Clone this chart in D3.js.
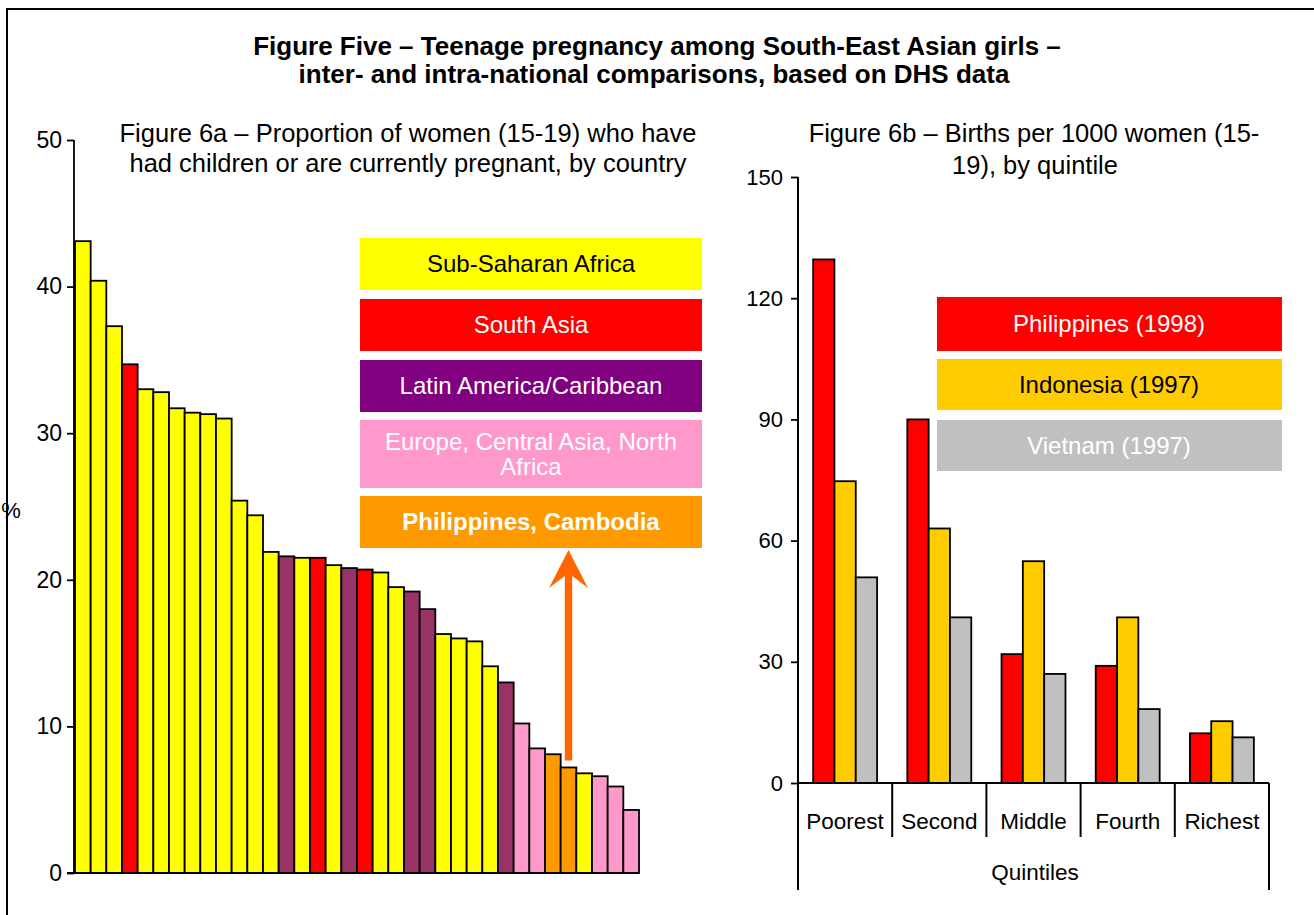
<!DOCTYPE html>
<html lang="en">
<head>
<meta charset="utf-8">
<title>Teenage pregnancy among South-East Asian girls</title>
<script src="https://cdn.jsdelivr.net/npm/d3@7/dist/d3.min.js"></script>
<style>
  body { margin: 0; background: #fff; }
  text { font-family: "Liberation Sans", Arial, sans-serif; }
</style>
</head>
<body>
<script>
// Figure 6a: share of women 15-19 who have had children or are pregnant, sorted by country
var countryValues = [43.1, 40.4, 37.3, 34.7, 33.0, 32.8, 31.7, 31.4, 31.3, 31.0, 25.4, 24.4,
  21.9, 21.6, 21.5, 21.5, 21.0, 20.8, 20.7, 20.5, 19.5, 19.2, 18.0, 16.3, 16.0, 15.8, 14.1,
  13.0, 10.2, 8.5, 8.1, 7.2, 6.8, 6.6, 5.9, 4.3]
var countryRegions = ['SSA', 'SSA', 'SSA', 'SA', 'SSA', 'SSA', 'SSA', 'SSA', 'SSA', 'SSA', 'SSA', 'SSA',
  'SSA', 'LAC', 'SSA', 'SA', 'SSA', 'LAC', 'SA', 'SSA', 'SSA', 'LAC', 'LAC', 'SSA', 'SSA', 'SSA', 'SSA',
  'LAC', 'ECA', 'ECA', 'PC', 'PC', 'SSA', 'ECA', 'ECA', 'ECA']
var leftTicks = [0, 10, 20, 30, 40, 50]

var regionKeys = ['SSA', 'SA', 'LAC', 'ECA', 'PC']
var regionLabels = [['Sub-Saharan Africa'], ['South Asia'], ['Latin America/Caribbean'],
  ['Europe, Central Asia, North', 'Africa'], ['Philippines, Cambodia']]

// Figure 6b: births per 1000 women 15-19, by wealth quintile
var quintiles = ['Poorest', 'Second', 'Middle', 'Fourth', 'Richest']
var countries = ['Philippines (1998)', 'Indonesia (1997)', 'Vietnam (1997)']
var philippines = [129.6, 90.0, 31.9, 29.0, 12.3]
var indonesia = [74.7, 63.0, 54.9, 41.0, 15.3]
var vietnam = [50.9, 41.0, 27.0, 18.3, 11.3]
var rightTicks = [0, 30, 60, 90, 120, 150]

var barColor = {SSA: '#ffff00', SA: '#ff0000', LAC: '#993366', ECA: '#ff99cc', PC: '#ff9900'}
var legendColor = {SSA: '#ffff00', SA: '#ff0000', LAC: '#800080', ECA: '#ff99cc', PC: '#ff9900'}
var legendText = {SSA: '#000', SA: '#fff', LAC: '#fff', ECA: '#fff', PC: '#fff'}
var countryColors = ['#ff0000', '#ffcc00', '#c0c0c0']
var countryText = ['#fff', '#000', '#fff']

var svg = d3.select('body').append('svg').attr('width', 1314).attr('height', 915)

// frame (open on the right and bottom, as in the scan)
svg.append('rect').attr('x', 7).attr('y', 9).attr('width', 1330).attr('height', 930)
  .attr('fill', 'none').attr('stroke', '#000').attr('stroke-width', 2)

var title = svg.append('text').attr('text-anchor', 'middle').attr('font-weight', 'bold')
  .attr('font-size', 26).attr('fill', '#000')
title.append('tspan').attr('x', 657).attr('y', 55).text('Figure Five \u2013 Teenage pregnancy among South-East Asian girls \u2013')
title.append('tspan').attr('x', 654).attr('y', 83).text('inter- and intra-national comparisons, based on DHS data')

// ---------- left chart ----------
var xl = d3.scaleBand().domain(d3.range(countryValues.length)).range([75, 639]).padding(0)
var yl = d3.scaleLinear().domain([0, 50]).range([873, 140])

var sub1 = svg.append('text').attr('text-anchor', 'middle').attr('font-size', 25.5)
sub1.append('tspan').attr('x', 408).attr('y', 142).text('Figure 6a \u2013 Proportion of women (15-19) who have')
sub1.append('tspan').attr('x', 408).attr('y', 172).text('had children or are currently pregnant, by country')

svg.append('g').selectAll('rect').data(countryValues).enter().append('rect')
  .attr('x', function(d, i) { return xl(i) })
  .attr('y', function(d) { return yl(d) })
  .attr('width', xl.bandwidth())
  .attr('height', function(d) { return yl(0) - yl(d) })
  .attr('fill', function(d, i) { return barColor[countryRegions[i]] })
  .attr('stroke', '#000').attr('stroke-width', 1.8)

var axl = svg.append('g').attr('transform', 'translate(74,0)')
  .call(d3.axisLeft(yl).tickValues(leftTicks).tickSize(7).tickPadding(5))
axl.selectAll('text').attr('font-size', 23).attr('fill', '#000').style('font-family', '"Liberation Sans", Arial, sans-serif')
axl.selectAll('line, path').attr('stroke', '#000').attr('stroke-width', 1.8)
axl.select('.domain').attr('d', 'M0,' + yl(50) + 'V' + yl(0))
svg.append('line').attr('x1', 67).attr('x2', 639).attr('y1', yl(0)).attr('y2', yl(0))
  .attr('stroke', '#000').attr('stroke-width', 2)

svg.append('text').attr('x', 11).attr('y', 518).attr('text-anchor', 'middle')
  .attr('font-size', 22).text('%')

// region legend boxes
var legL = svg.append('g').selectAll('g').data(regionKeys).enter().append('g')
var legTop = [238, 299, 360, 420, 496], legH = [52, 52, 52, 68, 52]
legL.append('rect')
  .attr('x', 360).attr('y', function(d, i) { return legTop[i] })
  .attr('width', 342).attr('height', function(d, i) { return legH[i] })
  .attr('fill', function(d) { return legendColor[d] })
legL.each(function(d, i) {
  var lines = regionLabels[i]
  var t = d3.select(this).append('text').attr('text-anchor', 'middle').attr('font-size', 24)
    .attr('fill', legendText[d]).attr('font-weight', d == 'PC' ? 'bold' : 'normal')
  lines.forEach(function(s, k) {
    t.append('tspan').attr('x', 531)
      .attr('y', legTop[i] + legH[i] / 2 + 8 + (k - (lines.length - 1) / 2) * 25)
      .text(s)
  })
})

// arrow pointing from the Philippines/Cambodia bars up to their legend box
var ax = xl(31) + xl.bandwidth() / 2, ab = yl(countryValues[31]) - 7, at = 550
svg.append('path')
  .attr('d', 'M' + (ax - 3.7) + ',' + ab + 'V' + (at + 26) + 'L' + (ax - 19.5) + ',' + (at + 38) +
    'L' + ax + ',' + at + 'L' + (ax + 19.5) + ',' + (at + 38) + 'L' + (ax + 3.7) + ',' + (at + 26) +
    'V' + ab + 'Z')
  .attr('fill', '#ff6600')

// ---------- right chart ----------
var x0 = d3.scaleBand().domain(quintiles).range([798, 1269]).padding(0)
var x1 = d3.scaleBand().domain(countries).range([0, x0.bandwidth()]).paddingInner(0).paddingOuter(0.71)
var yr = d3.scaleLinear().domain([0, 150]).range([783, 177])
var series = [philippines, indonesia, vietnam]

var sub2 = svg.append('text').attr('text-anchor', 'middle').attr('font-size', 25.5)
sub2.append('tspan').attr('x', 1034).attr('y', 142).text('Figure 6b \u2013 Births per 1000 women (15-')
sub2.append('tspan').attr('x', 1035).attr('y', 174).text('19), by quintile')

var groups = svg.append('g').selectAll('g').data(quintiles).enter().append('g')
  .attr('transform', function(d) { return 'translate(' + x0(d) + ',0)' })
groups.selectAll('rect')
  .data(function(q, qi) { return countries.map(function(c, ci) { return {c: c, ci: ci, v: series[ci][qi]} }) })
  .enter().append('rect')
  .attr('x', function(d) { return x1(d.c) })
  .attr('y', function(d) { return yr(d.v) })
  .attr('width', x1.bandwidth())
  .attr('height', function(d) { return yr(0) - yr(d.v) })
  .attr('fill', function(d) { return countryColors[d.ci] })
  .attr('stroke', '#000').attr('stroke-width', 1.8)

var ayr = svg.append('g').attr('transform', 'translate(798,0)')
  .call(d3.axisLeft(yr).tickValues(rightTicks).tickSize(7).tickPadding(8))
ayr.selectAll('text').attr('font-size', 22).attr('fill', '#000').style('font-family', '"Liberation Sans", Arial, sans-serif')
ayr.selectAll('line').attr('stroke', '#000').attr('stroke-width', 1.8)
ayr.select('.domain').attr('stroke', '#000').attr('stroke-width', 2).attr('d', 'M0,' + yr(150) + 'V890')

svg.append('line').attr('x1', 798).attr('x2', 1269).attr('y1', yr(0)).attr('y2', yr(0))
  .attr('stroke', '#000').attr('stroke-width', 2)
// category separators
svg.append('g').selectAll('line').data(quintiles.slice(1)).enter().append('line')
  .attr('x1', function(d) { return x0(d) }).attr('x2', function(d) { return x0(d) })
  .attr('y1', yr(0)).attr('y2', 837).attr('stroke', '#000').attr('stroke-width', 2)
svg.append('line').attr('x1', 1269).attr('x2', 1269).attr('y1', yr(0)).attr('y2', 890)
  .attr('stroke', '#000').attr('stroke-width', 2)

svg.append('g').selectAll('text').data(quintiles).enter().append('text')
  .attr('x', function(d) { return x0(d) + x0.bandwidth() / 2 }).attr('y', 829)
  .attr('text-anchor', 'middle').attr('font-size', 22.5).text(function(d) { return d })
svg.append('text').attr('x', 1035).attr('y', 880).attr('text-anchor', 'middle')
  .attr('font-size', 22.5).text('Quintiles')

// country legend boxes
var cTop = [297, 359, 420], cH = [54, 51, 51]
var legR = svg.append('g').selectAll('g').data(countries).enter().append('g')
legR.append('rect').attr('x', 937).attr('y', function(d, i) { return cTop[i] })
  .attr('width', 345).attr('height', function(d, i) { return cH[i] })
  .attr('fill', function(d, i) { return countryColors[i] })
legR.append('text').attr('x', 1109).attr('y', function(d, i) { return cTop[i] + cH[i] / 2 + 8 })
  .attr('text-anchor', 'middle').attr('font-size', 24)
  .attr('fill', function(d, i) { return countryText[i] }).text(function(d) { return d })
</script>
</body>
</html>
